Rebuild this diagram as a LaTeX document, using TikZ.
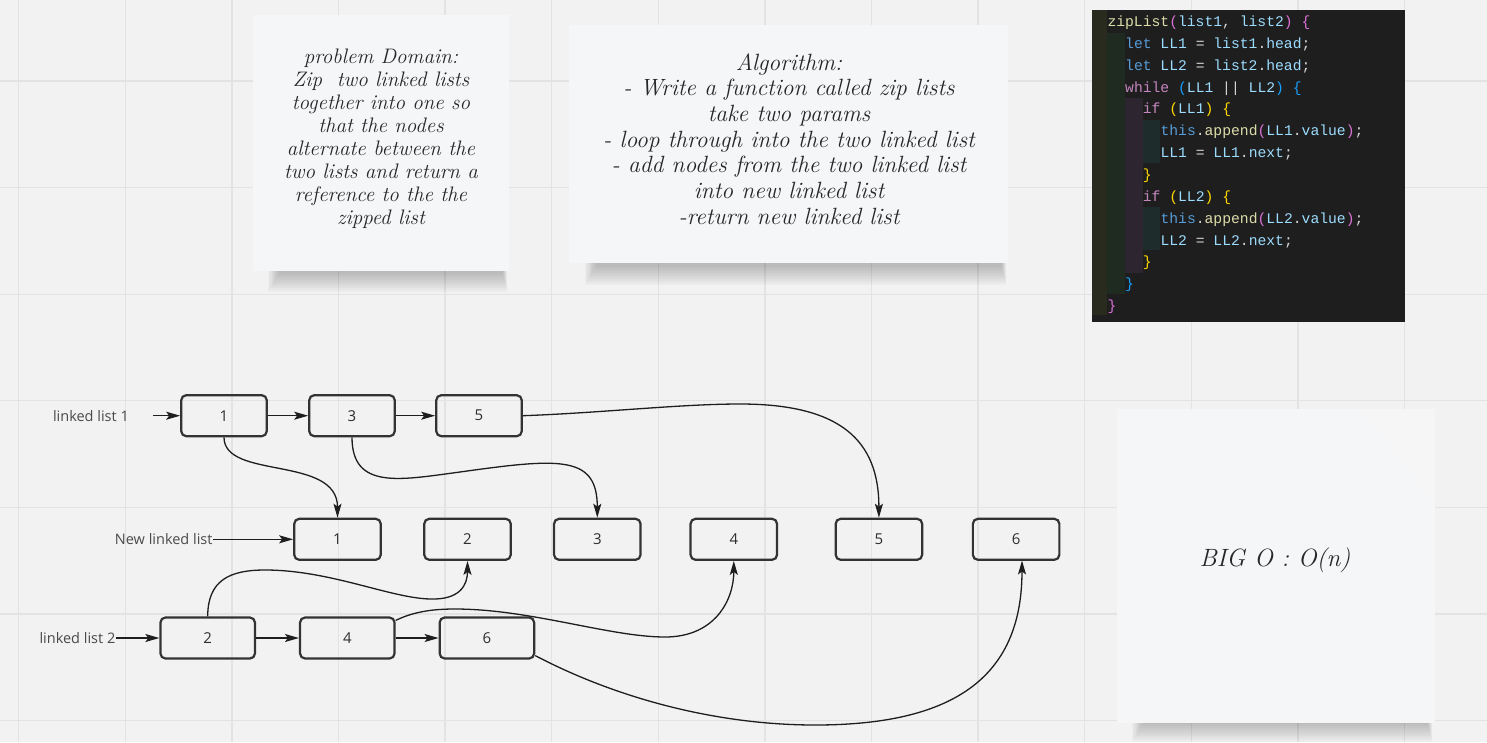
\documentclass[tikz,border=0pt]{standalone}
\usepackage{fontspec}
\setmonofont{Liberation Mono}
\newfontfamily\osans{Open Sans}
\usetikzlibrary{arrows.meta}
\definecolor{bgc}{HTML}{F2F2F2}
\definecolor{gridc}{HTML}{E3E3E3}
\definecolor{notec}{HTML}{F5F6F8}
\definecolor{boxc}{HTML}{333333}
\definecolor{boxtxt}{HTML}{2E2E2E}
\definecolor{labc}{HTML}{4A4A4A}
\definecolor{linec}{HTML}{1E1E1E}
\definecolor{codebg}{HTML}{1E1E1E}
\definecolor{stripA}{HTML}{2A2B1F}
\definecolor{stripB}{HTML}{1F2A21}
\definecolor{stripC}{HTML}{2D2530}
\definecolor{stripD}{HTML}{1F2C2C}
\definecolor{cfn}{HTML}{DCDCAA}
\definecolor{cpk}{HTML}{DA70D6}
\definecolor{cvar}{HTML}{9CDCFE}
\definecolor{cw}{HTML}{D4D4D4}
\definecolor{ckw}{HTML}{569CD6}
\definecolor{cctl}{HTML}{C586C0}
\definecolor{cbl}{HTML}{179FFF}
\definecolor{cgd}{HTML}{FFD700}
\newcommand\cc[2]{\textcolor{#1}{#2}}
\begin{document}
\begin{tikzpicture}[x=1pt,y=-1pt,
  box/.style={draw=boxc, line width=2.2pt, rounded corners=5pt, minimum height=41pt,
    inner sep=0pt, font=\osans\fontsize{15}{18}\selectfont, text=boxtxt},
  boxa/.style={box, minimum width=85.5pt},
  boxb/.style={box, minimum width=94.5pt},
  boxn/.style={box, minimum width=86.5pt},
  lab/.style={font=\osans\fontsize{14.5}{17}\selectfont, text=labc, inner sep=0pt},
  conn/.style={line width=1.3pt, draw=linec, -{Stealth[length=14pt,width=8pt,inset=3pt]}},
  note/.style={fill=notec, draw=none},
  hand/.style={font=\itshape\fontsize{21}{23}\selectfont, text=black!85, align=center, inner sep=0pt},
  codeln/.style={anchor=base west, inner sep=0pt, font=\ttfamily\fontsize{14.7}{18}\selectfont}
]
\useasboundingbox (0,0) rectangle (1487,742);
\fill[bgc] (0,0) rectangle (1487,742);
% grid
\foreach \k in {0,...,13} \draw[gridc, line width=1.3pt] ({18.7+106.6*\k},0) -- ({18.7+106.6*\k},742);
\foreach \k in {0,...,6} \draw[gridc, line width=1.3pt] (0,{81+106.6*\k}) -- (1487,{81+106.6*\k});

% shadows of notes
\foreach \i in {0,...,9} {
  \fill[black, opacity=0.022] ({268+1.2*\i},266) rectangle ({507-0.5*\i},{292-2*\i});
  \fill[black, opacity=0.022] ({585+1.2*\i},258) rectangle ({1006-0.5*\i},{285-2*\i});
  \fill[black, opacity=0.022] ({1132+1.2*\i},718) rectangle ({1432-0.5*\i},{742-2*\i});
}

% sticky notes
\fill[note] (253.3,15) rectangle (509.3,271);
\node[hand] (pd) at (381,139) {problem Domain:\\Zip\ \ two linked lists\\together into one so\\that the nodes\\alternate between the\\two lists and return a\\reference to the the\\zipped list};

\fill[note] (569.3,25) rectangle (1008.3,263);
\node[hand, font=\itshape\fontsize{23.5}{25.7}\selectfont] (alg) at (789,139) {Algorithm:\\- Write a function called zip lists\\take two params\\- loop through into the two linked list\\- add nodes from the two linked list\\into new linked list\\-return new linked list};

\fill[note] (1116.7,409.3) rectangle (1435,723.3);
\fill[black!3, opacity=0.6] (1360,409.3) -- (1435,409.3) -- (1435,505) -- cycle;
\node[hand, font=\itshape\fontsize{25}{28}\selectfont] (bigo) at (1275,560) {BIG O : O(n)};

% code block
\fill[codebg] (1092,10) rectangle (1405,322);
\fill[stripA] (1092,10) rectangle (1107.3,315);
\fill[stripB] (1107.3,33) rectangle (1125,294);
\fill[stripC] (1125,98) rectangle (1142.7,273);
\fill[stripD] (1142.7,120) rectangle (1160,163);
\fill[stripD] (1142.7,207) rectangle (1160,250);
\def\cx{1107.3}
\def\cw{8.84}
\def\cy{26.5}
\def\cs{21.85}
\node[codeln] (c1) at (\cx,{\cy}) {\cc{cfn}{zipList}\cc{cpk}{(}\cc{cvar}{list1}\cc{cw}{, }\cc{cvar}{list2}\cc{cpk}{)} \cc{cpk}{\{}};
\node[codeln] (c2) at ({\cx+2*\cw},{\cy+\cs}) {\cc{ckw}{let} \cc{cvar}{LL1} \cc{cw}{=} \cc{cvar}{list1}\cc{cw}{.}\cc{cvar}{head}\cc{cw}{;}};
\node[codeln] (c3) at ({\cx+2*\cw},{\cy+2*\cs}) {\cc{ckw}{let} \cc{cvar}{LL2} \cc{cw}{=} \cc{cvar}{list2}\cc{cw}{.}\cc{cvar}{head}\cc{cw}{;}};
\node[codeln] (c4) at ({\cx+2*\cw},{\cy+3*\cs}) {\cc{cctl}{while} \cc{cbl}{(}\cc{cvar}{LL1} \cc{cw}{||} \cc{cvar}{LL2}\cc{cbl}{)} \cc{cbl}{\{}};
\node[codeln] (c5) at ({\cx+4*\cw},{\cy+4*\cs}) {\cc{cctl}{if} \cc{cgd}{(}\cc{cvar}{LL1}\cc{cgd}{)} \cc{cgd}{\{}};
\node[codeln] (c6) at ({\cx+6*\cw},{\cy+5*\cs}) {\cc{ckw}{this}\cc{cw}{.}\cc{cfn}{append}\cc{cpk}{(}\cc{cvar}{LL1}\cc{cw}{.}\cc{cvar}{value}\cc{cpk}{)}\cc{cw}{;}};
\node[codeln] (c7) at ({\cx+6*\cw},{\cy+6*\cs}) {\cc{cvar}{LL1} \cc{cw}{=} \cc{cvar}{LL1}\cc{cw}{.}\cc{cvar}{next}\cc{cw}{;}};
\node[codeln] (c8) at ({\cx+4*\cw},{\cy+7*\cs}) {\cc{cgd}{\}}};
\node[codeln] (c9) at ({\cx+4*\cw},{\cy+8*\cs}) {\cc{cctl}{if} \cc{cgd}{(}\cc{cvar}{LL2}\cc{cgd}{)} \cc{cgd}{\{}};
\node[codeln] (c10) at ({\cx+6*\cw},{\cy+9*\cs}) {\cc{ckw}{this}\cc{cw}{.}\cc{cfn}{append}\cc{cpk}{(}\cc{cvar}{LL2}\cc{cw}{.}\cc{cvar}{value}\cc{cpk}{)}\cc{cw}{;}};
\node[codeln] (c11) at ({\cx+6*\cw},{\cy+10*\cs}) {\cc{cvar}{LL2} \cc{cw}{=} \cc{cvar}{LL2}\cc{cw}{.}\cc{cvar}{next}\cc{cw}{;}};
\node[codeln] (c12) at ({\cx+4*\cw},{\cy+11*\cs}) {\cc{cgd}{\}}};
\node[codeln] (c13) at ({\cx+2*\cw},{\cy+12*\cs}) {\cc{cbl}{\}}};
\node[codeln] (c14) at ({\cx},{\cy+13*\cs}) {\cc{cpk}{\}}};

% linked list 1
\node[boxa] (l1a) at (224,415.7) {1};
\node[boxa] (l1b) at (352,415.7) {3};
\node[boxa] (l1c) at (479,415.7) {5};
% new list
\node[boxn] (n1) at (337.5,539.3) {1};
\node[boxn] (n2) at (467.5,539.3) {2};
\node[boxn] (n3) at (597.3,539.3) {3};
\node[boxn] (n4) at (733.8,539.3) {4};
\node[boxn] (n5) at (878.9,539.3) {5};
\node[boxn] (n6) at (1016.1,539.3) {6};
% linked list 2
\node[boxb] (l2a) at (207.7,638) {2};
\node[boxb] (l2b) at (347.3,638) {4};
\node[boxb] (l2c) at (486.9,638) {6};

% labels
\node[lab, anchor=east] (lab1) at (129,415.7) {linked list 1};
\node[lab, anchor=east] (labn) at (212.7,539.3) {New linked list};
\node[lab, anchor=east] (lab2) at (115.5,638) {linked list 2};
\coordinate (s1) at (153,415.7);

% straight arrows
\draw[conn] (s1) -- (l1a.west);
\draw[conn] (l1a) -- (l1b);
\draw[conn] (l1b) -- (l1c);
\draw[conn] (labn.east) -- (n1.west);
\draw[conn] (lab2.east) -- (l2a.west);
\draw[conn] (l2a) -- (l2b);
\draw[conn] (l2b) -- (l2c);

% curved arrows
\draw[conn] (l1a.south) .. controls (224,480) and (337.5,455) .. (n1.north);
\draw[conn] (l1b.south) .. controls (352,490) and (400,480) .. (460,472)
   .. controls (560,458) and (597.3,455) .. (n3.north);
\draw[conn] (l1c.east) .. controls (600,413) and (680,404) .. (740,404)
   .. controls (840,404) and (878.9,440) .. (n5.north);
\draw[conn] (l2a.north) .. controls (207.7,580) and (230,570) .. (265,570)
   .. controls (330,570) and (390,598) .. (430,599)
   .. controls (460,600) and (467.5,585) .. (n2.south);
\draw[conn] (l2b.20) .. controls (415,611) and (435,609) .. (455,609)
   .. controls (530,609) and (610,637) .. (665,637)
   .. controls (715,637) and (733.8,600) .. (n4.south);
\coordinate (n6in) at (1022,560.5);
\draw[conn] (l2c.-20) .. controls (620,700) and (720,725) .. (815,725)
   .. controls (950,725) and (1022,680) .. (n6in);
\end{tikzpicture}
\end{document}
